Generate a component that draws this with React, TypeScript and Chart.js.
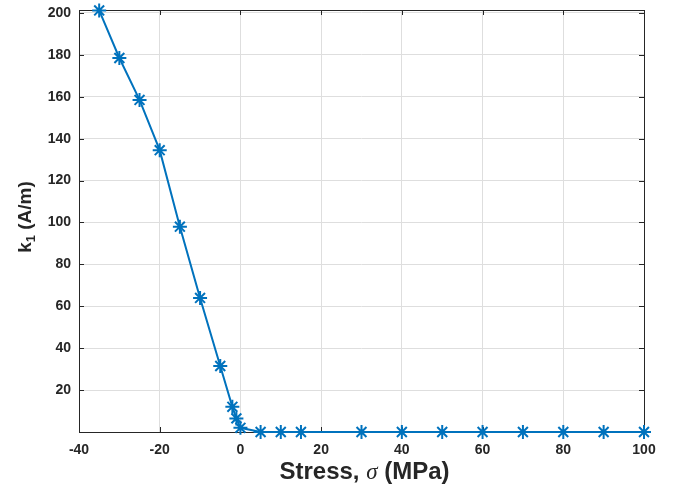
import React, { useEffect, useRef } from "react";
import { Chart, registerables } from "chart.js";

Chart.register(...registerables);

const stressMPa = [-35, -30, -25, -20, -15, -10, -5, -2, -1, 0, 5, 10, 15, 30, 40, 50, 60, 70, 80, 90, 100];
const k1Values = [201.2, 178.5, 158.5, 134.5, 98, 64, 31.5, 12, 6.5, 2, 0, 0, 0, 0, 0, 0, 0, 0, 0, 0, 0];
const xTicks = [-40, -20, 0, 20, 40, 60, 80, 100];
const yTicks = [20, 40, 60, 80, 100, 120, 140, 160, 180, 200];

const AXIS = "#262626";
const GRID = "#dedede";
const BLUE = "#0072BD";
const FONT = "'Liberation Sans', Arial, sans-serif";

const framePlugin = {
  id: "matlabFrame",
  beforeDatasetsDraw(chart: any) {
    const { ctx, chartArea: a, scales } = chart;
    ctx.save();
    ctx.strokeStyle = AXIS;
    ctx.lineWidth = 1;
    ctx.strokeRect(Math.round(a.left) + 0.5, Math.round(a.top) + 0.5, Math.round(a.right - a.left), Math.round(a.bottom - a.top));
    const tl = 5;
    ctx.beginPath();
    for (const v of xTicks) {
      const x = Math.round(scales.x.getPixelForValue(v)) + 0.5;
      ctx.moveTo(x, a.bottom);
      ctx.lineTo(x, a.bottom - tl);
      ctx.moveTo(x, a.top);
      ctx.lineTo(x, a.top + tl);
    }
    for (const v of yTicks) {
      const y = Math.round(scales.y.getPixelForValue(v)) + 0.5;
      ctx.moveTo(a.left, y);
      ctx.lineTo(a.left + tl, y);
      ctx.moveTo(a.right, y);
      ctx.lineTo(a.right - tl, y);
    }
    ctx.stroke();
    ctx.restore();
  },
  afterDraw(chart: any) {
    const { ctx, chartArea: a } = chart;
    ctx.save();
    ctx.fillStyle = AXIS;
    ctx.textBaseline = "alphabetic";
    ctx.textAlign = "left";
    // x title
    const parts: [string, string][] = [
      ["Stress, ", `bold 24px ${FONT}`],
      ["σ", `italic 23px 'Liberation Serif', 'DejaVu Serif', serif`],
      [" (MPa)", `bold 24px ${FONT}`],
    ];
    let total = 0;
    for (const [t, f] of parts) {
      ctx.font = f;
      total += ctx.measureText(t).width;
    }
    let x = (a.left + a.right) / 2 + 3 - total / 2;
    for (const [t, f] of parts) {
      ctx.font = f;
      ctx.fillText(t, x, 479);
      x += ctx.measureText(t).width;
    }
    // y title
    const yParts: [string, string, number][] = [
      ["k", `bold 19px ${FONT}`, 0],
      ["1", `bold 13px ${FONT}`, 4],
      [" (A/m)", `bold 19px ${FONT}`, 0],
    ];
    let yt = 0;
    for (const [t, f] of yParts) {
      ctx.font = f;
      yt += ctx.measureText(t).width;
    }
    ctx.translate(31, 217);
    ctx.rotate(-Math.PI / 2);
    let px = -yt / 2;
    for (const [t, f, dy] of yParts) {
      ctx.font = f;
      ctx.fillText(t, px, dy);
      px += ctx.measureText(t).width;
    }
    ctx.restore();
  },
};

export default function App() {
  const ref = useRef<HTMLCanvasElement | null>(null);
  useEffect(() => {
    if (!ref.current) return;
    const chart = new Chart(ref.current, {
      type: "line",
      data: {
        datasets: [
          {
            label: "k1",
            data: stressMPa.map((s, i) => ({ x: s, y: k1Values[i] })),
            borderColor: BLUE,
            backgroundColor: BLUE,
            borderWidth: 2,
            pointStyle: "star",
            pointRadius: 7,
            pointBorderWidth: 2,
            pointBorderColor: BLUE,
            pointHoverRadius: 7,
            tension: 0,
            clip: false as any,
          },
        ],
      },
      options: {
        animation: false,
        responsive: false,
        maintainAspectRatio: false,
        layout: { padding: { top: 10, right: 33, left: 0, bottom: 0 } },
        plugins: { legend: { display: false }, tooltip: { enabled: false } },
        scales: {
          x: {
            type: "linear",
            min: -40,
            max: 100,
            afterBuildTicks: (s: any) => {
              s.ticks = xTicks.map((v) => ({ value: v }));
            },
            afterFit: (s: any) => {
              s.height = 54;
              s.paddingLeft = 0;
              s.paddingRight = 0;
            },
            grid: { color: GRID, drawTicks: false },
            border: { display: false },
            ticks: {
              color: AXIS,
              font: { family: FONT, size: 14, weight: "bold" },
              padding: 10,
              maxRotation: 0,
              autoSkip: false,
            },
          },
          y: {
            type: "linear",
            min: 0,
            max: 201.4,
            afterBuildTicks: (s: any) => {
              s.ticks = yTicks.map((v) => ({ value: v }));
            },
            afterFit: (s: any) => {
              s.width = 79;
              s.paddingTop = 0;
              s.paddingBottom = 0;
            },
            grid: { color: GRID, drawTicks: false },
            border: { display: false },
            ticks: {
              color: AXIS,
              font: { family: FONT, size: 14, weight: "bold" },
              padding: 8,
              autoSkip: false,
            },
          },
        },
      },
      plugins: [framePlugin],
    } as any);
    return () => chart.destroy();
  }, []);
  return (
    <div style={{ position: "absolute", left: 0, top: 0, width: 677, height: 486, background: "#fff" }}>
      <canvas ref={ref} width={677} height={486} style={{ display: "block" }} />
    </div>
  );
}
